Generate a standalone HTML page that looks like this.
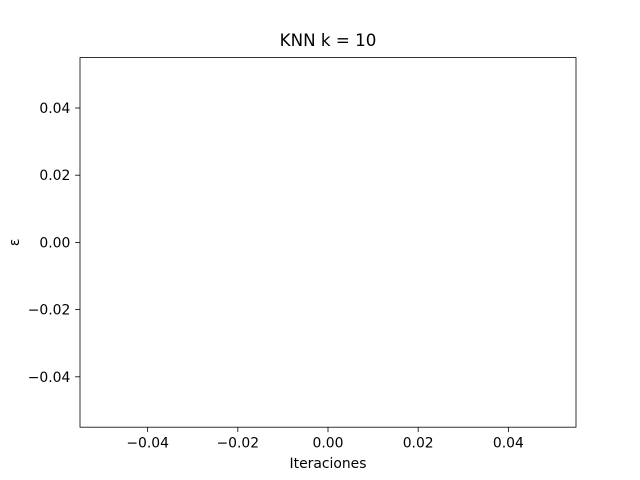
<!DOCTYPE html>
<html><head><meta charset="utf-8"><style>
html,body{margin:0;padding:0;background:#fff;}
svg{display:block;font-family:"DejaVu Sans","Liberation Sans",sans-serif;}
</style></head><body>
<svg id="chart" width="640" height="480" viewBox="0 0 640 480">
<rect x="0" y="0" width="640" height="480" fill="#fff"/>
<text x="328" y="46" text-anchor="middle" font-size="16.7" fill="#000">KNN k = 10</text>
<g id="plot"></g>
<rect x="80" y="57.6" width="496" height="369.6" fill="none" stroke="#000" stroke-width="0.8"/>
<text x="328" y="468" text-anchor="middle" font-size="13.9" fill="#000">Iteraciones</text>
<text transform="translate(19,242.4) rotate(-90)" text-anchor="middle" font-size="13.9" fill="#000">ε</text>
</svg>
<script>
const xTicks = [-0.04, -0.02, 0, 0.02, 0.04];
const yTicks = [-0.04, -0.02, 0, 0.02, 0.04];
const xTickLabels = ["−0.04", "−0.02", "0.00", "0.02", "0.04"];
const yTickLabels = ["−0.04", "−0.02", "0.00", "0.02", "0.04"];
const seriesX = [];
const seriesY = [];
const xDomain = [-0.055, 0.055];
const yDomain = [-0.055, 0.055];

const L = 80, R = 576, T = 57.6, B = 427.2;
function xs(v){ return L + (v - xDomain[0]) / (xDomain[1] - xDomain[0]) * (R - L); }
function ys(v){ return B - (v - yDomain[0]) / (yDomain[1] - yDomain[0]) * (B - T); }
const NS = "http://www.w3.org/2000/svg";
const svg = document.getElementById('chart');
const plot = document.getElementById('plot');

xTicks.forEach((t, i) => {
  const x = xs(t);
  const ln = document.createElementNS(NS, 'line');
  ln.setAttribute('x1', x); ln.setAttribute('x2', x);
  ln.setAttribute('y1', B); ln.setAttribute('y2', B + 4.9);
  ln.setAttribute('stroke', '#000'); ln.setAttribute('stroke-width', '0.8');
  
  
  svg.appendChild(ln);
  const tx = document.createElementNS(NS, 'text');
  tx.setAttribute('x', x); tx.setAttribute('y', B + 20.3);
  tx.setAttribute('text-anchor', 'middle'); tx.setAttribute('font-size', '13.9');
  tx.textContent = xTickLabels[i];
  
  
  svg.appendChild(tx);
});
yTicks.forEach((t, i) => {
  const y = ys(t);
  const ln = document.createElementNS(NS, 'line');
  ln.setAttribute('x1', L - 4.9); ln.setAttribute('x2', L);
  ln.setAttribute('y1', y); ln.setAttribute('y2', y);
  ln.setAttribute('stroke', '#000'); ln.setAttribute('stroke-width', '0.8');
  
  
  svg.appendChild(ln);
  const tx = document.createElementNS(NS, 'text');
  tx.setAttribute('x', L - 9.7); tx.setAttribute('y', y + 5);
  tx.setAttribute('text-anchor', 'end'); tx.setAttribute('font-size', '13.9');
  tx.textContent = yTickLabels[i];
  
  
  svg.appendChild(tx);
});
if (seriesX.length) {
  const pl = document.createElementNS(NS, 'polyline');
  pl.setAttribute('points', seriesX.map((v, i) => xs(v) + ',' + ys(seriesY[i])).join(' '));
  pl.setAttribute('fill', 'none'); pl.setAttribute('stroke', '#1f77b4'); pl.setAttribute('stroke-width', '1.5');
  
  
  plot.appendChild(pl);
}
</script>
</body></html>
